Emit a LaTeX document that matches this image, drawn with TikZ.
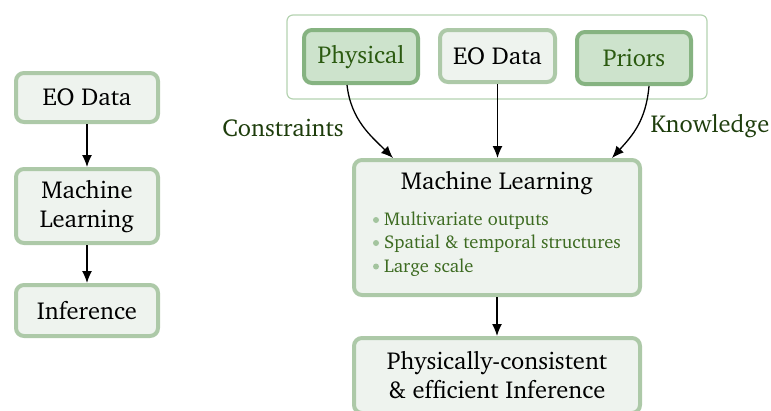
\documentclass[tikz,border=0pt]{standalone}
\usepackage[T1]{fontenc}
\usepackage{charter}
\usetikzlibrary{arrows.meta,calc}

\definecolor{boxline}{HTML}{ADC9A8}
\definecolor{boxfill}{HTML}{EEF3EE}
\definecolor{keyline}{HTML}{86B381}
\definecolor{keyfill}{HTML}{CDE3CC}
\definecolor{frameline}{HTML}{B5D3B1}
\definecolor{keytext}{HTML}{2B5A10}
\definecolor{labeltext}{HTML}{1E3D0C}
\definecolor{itemtext}{HTML}{3D6B21}
\definecolor{itemdot}{HTML}{A3C49E}

\tikzset{
  plainbox/.style={draw=boxline, fill=boxfill, line width=4pt, rounded corners=8pt,
    align=center, inner sep=0pt, font=\fontsize{24.5}{29}\selectfont},
  keybox/.style={draw=keyline, fill=keyfill, line width=4pt, rounded corners=8pt,
    align=center, inner sep=0pt, text=keytext, font=\fontsize{24.5}{29}\selectfont},
  sidelabel/.style={text=labeltext, font=\fontsize{24.5}{29}\selectfont, inner sep=0pt},
  itemlabel/.style={text=itemtext, font=\fontsize{18.5}{22}\selectfont, anchor=base west, inner sep=0pt},
  itemmark/.style={circle, fill=itemdot, inner sep=0pt, minimum size=6pt},
  flow/.style={-{Latex[length=12pt,width=10pt]}, line width=1.3pt, black},
}

\begin{document}
\begin{tikzpicture}[x=1pt,y=-1pt]
\useasboundingbox (0,0) rectangle (771,410);

% simple pipeline on the left
\node[plainbox, minimum width=142pt, minimum height=49pt] (eo) at (87,97.5) {EO Data};
\node[plainbox, minimum width=142pt, minimum height=74pt] (ml) at (87,206) {Machine\\Learning};
\node[plainbox, minimum width=142pt, minimum height=51pt] (inf) at (87,310.5) {Inference};
\draw[flow] (eo) -- (ml);
\draw[flow] (ml) -- (inf);

% input group on the right
\node[draw=frameline, line width=1.2pt, rounded corners=6pt, fill=white,
      minimum width=420pt, minimum height=84pt, inner sep=0pt] (group) at (497,57) {};
\node[keybox, minimum width=114pt, minimum height=53pt] (phys) at (361,56.5) {Physical};
\node[plainbox, minimum width=115pt, minimum height=52pt] (eo2) at (497.5,56) {EO Data};
\node[keybox, minimum width=114pt, minimum height=52pt] (prior) at (634,58) {Priors};

% central learning block
\node[plainbox, minimum width=286pt, minimum height=135pt] (ml2) at (497,227.5) {};
\node[font=\fontsize{24.5}{29}\selectfont, inner sep=0pt] (mltitle) at (497,183) {Machine Learning};
\node[itemmark] (d1) at (376,220) {};
\node[itemlabel] (i1) at (384,225.5) {Multivariate outputs};
\node[itemmark] (d2) at (376,243) {};
\node[itemlabel] (i2) at (384,248.5) {Spatial \& temporal structures};
\node[itemmark] (d3) at (376,266.5) {};
\node[itemlabel] (i3) at (384,272) {Large scale};

% output block
\node[plainbox, minimum width=286pt, minimum height=75pt] (out) at (497,375.5)
  {Physically-consistent\\\& efficient Inference};

% connectors into and out of the learning block
\coordinate (physfoot) at ($(phys.south)+(-14,0)$);
\coordinate (priorfoot) at ($(prior.south)+(15,0)$);
\coordinate (mlleft) at ($(ml2.north)+(-104,0)$);
\coordinate (mlright) at ($(ml2.north)+(115,0)$);
\draw[flow] (physfoot) .. controls +(4,35) and +(-22,-22) .. (mlleft);
\draw[flow] (eo2.south) -- (eo2.south |- ml2.north);
\draw[flow] (priorfoot) .. controls +(-3,35) and +(20,-22) .. (mlright);
\draw[flow] (ml2) -- (out);

\node[sidelabel] (cons) at (283,128) {Constraints};
\node[sidelabel] (know) at (710,126) {Knowledge};
\end{tikzpicture}
\end{document}
